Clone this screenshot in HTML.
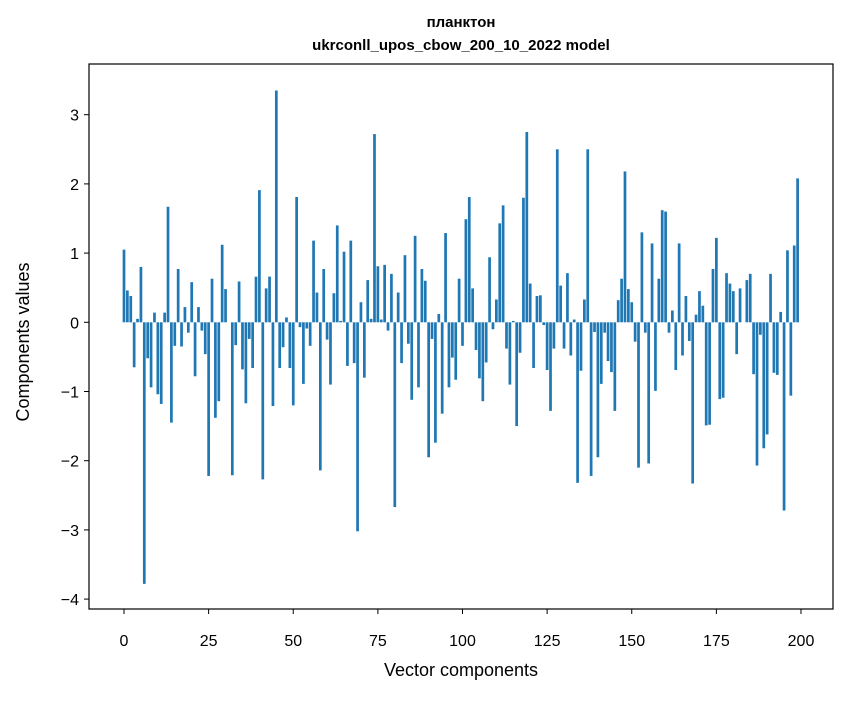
<!DOCTYPE html>
<html><head><meta charset="utf-8"><style>
body{margin:0;background:#fff;}
svg text{font-family:"Liberation Sans","DejaVu Sans",sans-serif;fill:#000;}
</style></head><body>
<svg id="chart" width="847" height="696" xmlns="http://www.w3.org/2000/svg">
<rect width="847" height="696" fill="#fff"/>
<text x="461" y="27" text-anchor="middle" font-size="15" font-weight="bold">планктон</text>
<text x="461" y="50" text-anchor="middle" font-size="15" font-weight="bold">ukrconll_upos_cbow_200_10_2022 model</text>
<g id="bars"></g>
<rect x="89" y="64" width="744" height="545" fill="none" stroke="#000" stroke-width="1.2"/>
<g id="xaxis"></g>
<g id="yaxis"></g>
<text x="461" y="676" text-anchor="middle" font-size="18">Vector components</text>
<text transform="translate(29,342) rotate(-90)" text-anchor="middle" font-size="18">Components values</text>
</svg>
<script>
const values = [1.05,0.46,0.38,-0.65,0.05,0.80,-3.78,-0.52,-0.94,0.14,-1.04,-1.18,0.14,1.67,-1.45,-0.34,0.77,-0.35,0.22,-0.15,
0.58,-0.78,0.22,-0.12,-0.46,-2.22,0.63,-1.38,-1.14,1.12,0.48,0.0,-2.21,-0.33,0.59,-0.68,-1.17,-0.24,-0.66,0.66,
1.91,-2.27,0.49,0.66,-1.21,3.35,-0.66,-0.36,0.07,-0.66,-1.2,1.81,-0.07,-0.89,-0.09,-0.34,1.18,0.43,-2.14,0.77,
-0.25,-0.9,0.42,1.40,0.02,1.02,-0.63,1.18,-0.59,-3.02,0.29,-0.8,0.61,0.05,2.72,0.81,0.04,0.83,-0.12,0.7,
-2.67,0.43,-0.59,0.97,-0.31,-1.12,1.25,-0.94,0.77,0.6,-1.95,-0.24,-1.74,0.12,-1.32,1.29,-0.94,-0.51,-0.83,0.63,
-0.34,1.49,1.81,0.49,-0.4,-0.81,-1.14,-0.58,0.94,-0.1,0.33,1.43,1.69,-0.38,-0.9,0.02,-1.5,-0.44,1.8,2.75,
0.56,-0.66,0.38,0.39,-0.04,-0.69,-1.28,-0.38,2.5,0.53,-0.38,0.71,-0.48,0.04,-2.32,-0.7,0.33,2.5,-2.22,-0.14,
-1.95,-0.89,-0.15,-0.56,-0.72,-1.28,0.32,0.63,2.18,0.48,0.29,-0.28,-2.1,1.3,-0.15,-2.04,1.14,-0.99,0.63,1.62,
1.6,-0.15,0.17,-0.69,1.14,-0.48,0.38,-0.27,-2.33,0.11,0.45,0.24,-1.49,-1.48,0.77,1.22,-1.11,-1.09,0.71,0.56,
0.45,-0.46,0.49,0.0,0.61,0.70,-0.75,-2.07,-0.18,-1.82,-1.62,0.7,-0.73,-0.76,0.15,-2.72,1.04,-1.06,1.11,2.08];
const xTicks = [0,25,50,75,100,125,150,175,200];
const yTicks = [3,2,1,0,-1,-2,-3,-4];
const NS='http://www.w3.org/2000/svg';
const xs = v => 124 + (v/200)*677;
const ys = v => 322.3 - v*69.2;
const bars=document.getElementById('bars');
values.forEach((v,i)=>{
  const r=document.createElementNS(NS,'rect');
  
  
  const w=0.8*677/200;
  r.setAttribute('x',xs(i)-w/2);
  r.setAttribute('width',w);
  r.setAttribute('y',Math.min(ys(v),ys(0)));
  r.setAttribute('height',Math.abs(ys(v)-ys(0)));
  r.setAttribute('fill','#1f77b4');
  bars.appendChild(r);
});
const xa=document.getElementById('xaxis');
xTicks.forEach(t=>{
  const l=document.createElementNS(NS,'line');
  
  
  l.setAttribute('x1',xs(t));l.setAttribute('x2',xs(t));l.setAttribute('y1',609);l.setAttribute('y2',614);
  l.setAttribute('stroke','#000');
  xa.appendChild(l);
  const tx=document.createElementNS(NS,'text');
  
  
  tx.setAttribute('x',xs(t));tx.setAttribute('y',646);tx.setAttribute('text-anchor','middle');tx.setAttribute('font-size','16');
  tx.textContent=t;
  xa.appendChild(tx);
});
const ya=document.getElementById('yaxis');
yTicks.forEach(t=>{
  const l=document.createElementNS(NS,'line');
  
  
  l.setAttribute('x1',84);l.setAttribute('x2',89);l.setAttribute('y1',ys(t));l.setAttribute('y2',ys(t));
  l.setAttribute('stroke','#000');
  ya.appendChild(l);
  const tx=document.createElementNS(NS,'text');
  
  
  tx.setAttribute('x',79);tx.setAttribute('y',ys(t)+6);tx.setAttribute('text-anchor','end');tx.setAttribute('font-size','16');
  tx.textContent=t<0?'\u2212'+Math.abs(t):t;
  ya.appendChild(tx);
});
</script>
</body></html>
